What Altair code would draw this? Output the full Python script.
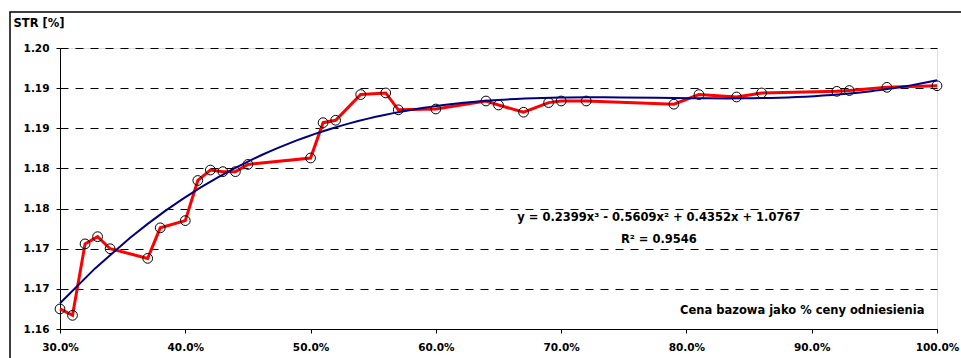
import altair as alt
import pandas as pd

# Base price as a share of the reference price, and the resulting STR
price_share = [0.30, 0.31, 0.32, 0.33, 0.34, 0.37, 0.38, 0.40, 0.41, 0.42,
               0.43, 0.44, 0.45, 0.50, 0.51, 0.52, 0.54, 0.56, 0.57, 0.60,
               0.64, 0.65, 0.67, 0.69, 0.70, 0.72, 0.79, 0.81, 0.84, 0.86,
               0.92, 0.93, 0.96, 1.00]
str_value = [1.1625, 1.1617, 1.1706, 1.1715, 1.1700, 1.1688, 1.1726, 1.1735,
             1.1785, 1.1798, 1.1796, 1.1796, 1.1805, 1.1813, 1.1857, 1.1860,
             1.1892, 1.1894, 1.1873, 1.1874, 1.1884, 1.1879, 1.1870, 1.1882,
             1.1884, 1.1884, 1.1880, 1.1892, 1.1889, 1.1894, 1.1896, 1.1897,
             1.1901, 1.1903]

x_ticks = [0.3, 0.4, 0.5, 0.6, 0.7, 0.8, 0.9, 1.0]
y_ticks = [1.160, 1.165, 1.170, 1.175, 1.180, 1.185, 1.190, 1.195]

equation_text = "y = 0.2399x³ - 0.5609x² + 0.4352x + 1.0767"
r2_text = "R² = 0.9546"
note_share = [0.778, 0.778]
note_str = [1.17387, 1.17106]

FONT = "DejaVu Sans"
FS_LABEL = 10.5
FS_TEXT = 11.5

df = pd.DataFrame({"share": price_share, "str": str_value})
notes = pd.DataFrame({"share": note_share, "str": note_str,
                      "label": [equation_text, r2_text]})

x_scale = alt.Scale(domain=[0.30, 1.00], nice=False)
y_scale = alt.Scale(domain=[1.160, 1.195], nice=False, zero=False)

x_enc = alt.X(
    "share:Q", scale=x_scale,
    axis=alt.Axis(
        values=x_ticks, format=".1%", grid=False,
        title="Cena bazowa jako % ceny odniesienia",
        titleX=864, titleY=-19, titleAlign="right", titleBaseline="middle",
        titleFont=FONT, titleFontSize=FS_TEXT, titleFontWeight="bold", titleColor="black",
        labelFont=FONT, labelFontSize=FS_LABEL, labelFontWeight="bold", labelColor="black",
        labelPadding=9, labelFlush=False, labelOverlap=False,
        tickSize=4, tickColor="black", domainColor="black",
    ),
)
y_enc = alt.Y(
    "str:Q", scale=y_scale,
    axis=alt.Axis(
        values=y_ticks, labelExpr="format(datum.value + 1e-9, '.2f')",
        grid=True, gridDash=[8, 7], gridColor="black", gridWidth=1,
        title="STR [%]", titleAngle=0, titleX=-47, titleY=-25,
        titleAlign="left", titleBaseline="middle",
        titleFont=FONT, titleFontSize=FS_TEXT, titleFontWeight="bold", titleColor="black",
        labelFont=FONT, labelFontSize=FS_LABEL, labelFontWeight="bold", labelColor="black",
        labelPadding=7, labelOverlap=False,
        tickSize=4, tickColor="black", domainColor="black",
    ),
)

base = alt.Chart(df)

series = base.mark_line(color="#ff0000", strokeWidth=3).encode(x=x_enc, y=y_enc)

markers = base.mark_point(shape="circle", size=95, filled=False,
                          color="black", strokeWidth=1, opacity=1).encode(
    x="share:Q", y="str:Q")

trend = base.transform_regression(
    "share", "str", method="poly", order=3, extent=[0.30, 1.00]
).mark_line(color="#000080", strokeWidth=2).encode(x="share:Q", y="str:Q")

labels = alt.Chart(notes).mark_text(
    font=FONT, fontSize=FS_TEXT, fontWeight="bold", color="black",
    align="center", baseline="middle"
).encode(x="share:Q", y="str:Q", text="label:N")

frame = alt.Chart(pd.DataFrame({"k": [0]})).mark_rect(
    fill="transparent", stroke="black", strokeWidth=1.5
).encode(x=alt.value(-50), x2=alt.value(1000), y=alt.value(-36), y2=alt.value(400))

chart = alt.layer(frame, series, markers, trend, labels).properties(
    width=877, height=281,
    padding={"left": 60, "top": 48, "right": 24, "bottom": 29},
    autosize=alt.AutoSizeParams(type="none"),
).configure_view(stroke="#999999", strokeWidth=1).configure(background="white")

chart.save("out.html", embed_options={"renderer": "svg", "actions": False})
